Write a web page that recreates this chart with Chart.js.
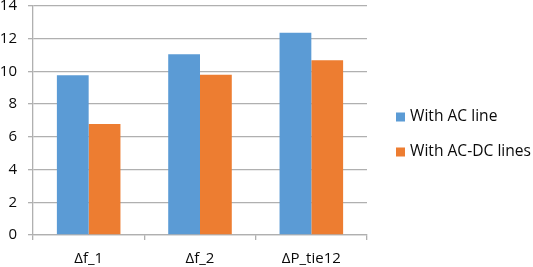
<!DOCTYPE html>
<html>
<head>
<meta charset="utf-8">
<script src="https://cdn.jsdelivr.net/npm/chart.js@4/dist/chart.umd.min.js"></script>
<style>
  body { margin: 0; background: #fff; }
  canvas { display: block; }
</style>
</head>
<body>
<canvas id="chart" width="533" height="267"></canvas>
<script>
// Data
const categories = ['Δf_1', 'Δf_2', 'ΔP_tie12'];
const seriesNames = ['With AC line', 'With AC-DC lines'];
const acLine = [9.77, 11.05, 12.37];
const acDcLines = [6.78, 9.79, 10.68];
const yTicks = [0, 2, 4, 6, 8, 10, 12, 14];

const textColor = '#0a0a0a';
const gridColor = '#b0b0b0';

// Legend drawn at the right side, like the original
const sideLegend = {
    id: 'sideLegend',
    afterDraw(chart) {
        const ctx = chart.ctx;
        ctx.save();
        ctx.font = '15.6px "Open Sans"';
        ctx.textBaseline = 'middle';
        chart.data.datasets.forEach((ds, i) => {
            const y = 117 + i * 35;
            ctx.fillStyle = ds.backgroundColor;
            ctx.fillRect(396, y - 4.5, 9, 9);
            ctx.fillStyle = textColor;
            ctx.fillText(ds.label, 410, y);
        });
        ctx.restore();
    }
};

new Chart(document.getElementById('chart').getContext('2d'), {
    type: 'bar',
    data: {
        labels: categories,
        datasets: [
            { label: seriesNames[0], data: acLine, backgroundColor: '#5b9bd5' },
            { label: seriesNames[1], data: acDcLines, backgroundColor: '#ed7d31' }
        ]
    },
    options: {
        responsive: false,
        devicePixelRatio: 1,
        animation: false,
        categoryPercentage: 0.571,
        barPercentage: 1,
        layout: { padding: { top: 6, right: 166, left: 0, bottom: 0 } },
        plugins: {
            legend: { display: false },
            tooltip: { enabled: false }
        },
        scales: {
            y: {
                min: 0,
                max: 14,
                afterBuildTicks(s) {
                    s.ticks = yTicks.map(v => ({ value: v }));
                },
                afterFit(s) {
                    s.width = 33;
                    s.paddingTop = 0;
                    s.paddingBottom = 0;
                },
                ticks: {
                    color: textColor,
                    padding: 11,
                    font: { family: 'Open Sans', size: 15 }
                },
                grid: { color: gridColor, lineWidth: 1.3, tickLength: 5 },
                border: { color: gridColor, width: 1.3 }
            },
            x: {
                afterFit(s) {
                    s.height = 32;
                    s.paddingLeft = 0;
                    s.paddingRight = 0;
                },
                ticks: {
                    color: textColor,
                    padding: 10,
                    maxRotation: 0,
                    font: { family: 'Open Sans', size: 15 }
                },
                grid: { drawOnChartArea: false, color: gridColor, lineWidth: 1.3, tickLength: 5, offset: true },
                border: { color: gridColor, width: 1.3 }
            }
        }
    },
    plugins: [sideLegend]
});
</script>
</body>
</html>
